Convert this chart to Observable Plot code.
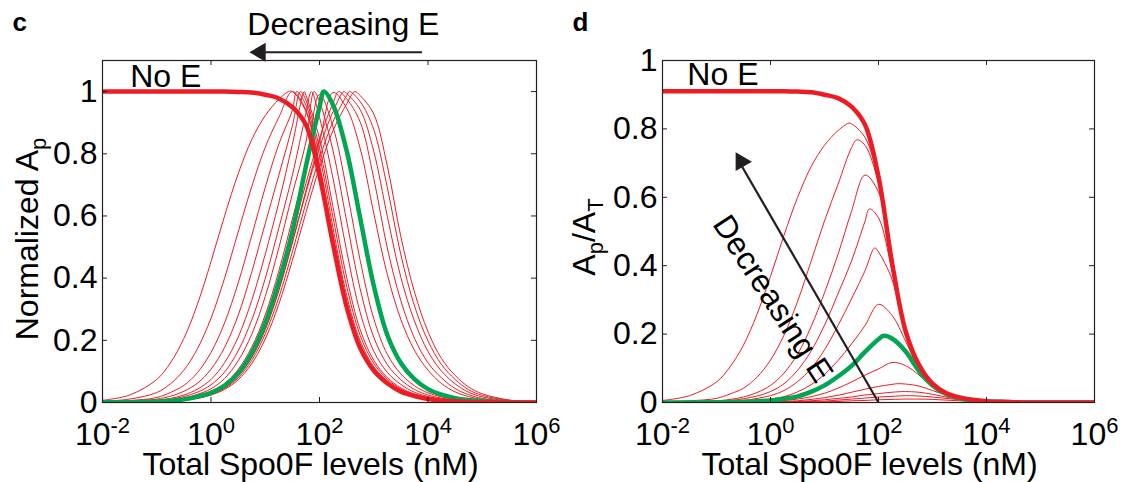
<!DOCTYPE html>
<html>
<head>
<meta charset="utf-8">
<script src="https://cdn.jsdelivr.net/npm/d3@7"></script>
<script src="https://cdn.jsdelivr.net/npm/@observablehq/plot@0.6"></script>
<style>
  html, body { margin: 0; padding: 0; background: #fff; }
  #fig { display: flex; width: 1129px; height: 482px; overflow: hidden; }
</style>
</head>
<body>
<div id="fig"></div>
<script>
// Sampling grid: log10 of total Spo0F (nM)
const logGrid = [-2,-1.5,-1,-0.75,-0.5,-0.25,0,0.25,0.5,0.75,1,1.25,1.5,1.75,2,2.25,2.5,2.75,3,3.25,3.5,3.75,4,4.25,4.5,4.75,5,5.5,6];
const xTickExp = [-2, 0, 2, 4, 6];

// Panel c: normalized Ap, one curve per E level (E decreasing from norm13 to norm1)
const normNoE  = [1,1,1,1,1,1,1,1,0.999,0.997,0.99,0.978,0.95,0.893,0.729,0.509,0.308,0.175,0.103,0.062,0.035,0.021,0.011,0.006,0.004,0.002,0.001,0,0];
const norm1  = [0.007,0.024,0.074,0.127,0.206,0.316,0.453,0.6,0.735,0.845,0.923,0.975,1.0,0.936,0.754,0.522,0.313,0.177,0.104,0.063,0.036,0.021,0.012,0.006,0.004,0.002,0.001,0,0];
const norm2  = [0.004,0.011,0.032,0.06,0.104,0.173,0.271,0.4,0.548,0.694,0.821,0.917,1.0,0.941,0.766,0.536,0.325,0.184,0.108,0.065,0.037,0.022,0.012,0.007,0.004,0.002,0.001,0,0];
const norm3  = [0.002,0.006,0.016,0.032,0.055,0.096,0.161,0.256,0.384,0.536,0.692,0.831,0.94,0.956,0.795,0.561,0.345,0.198,0.115,0.069,0.039,0.023,0.013,0.007,0.004,0.002,0.001,0,0];
const norm4  = [0.002,0.004,0.011,0.02,0.036,0.062,0.107,0.177,0.28,0.419,0.576,0.731,0.89,0.972,0.819,0.595,0.374,0.216,0.126,0.075,0.043,0.025,0.014,0.008,0.004,0.002,0.001,0,0];
const norm5  = [0.001,0.003,0.007,0.013,0.024,0.043,0.074,0.128,0.21,0.328,0.477,0.644,0.83,0.988,0.849,0.628,0.403,0.234,0.136,0.08,0.047,0.027,0.015,0.009,0.005,0.003,0.001,0,0];
const norm6  = [0.001,0.002,0.005,0.01,0.019,0.033,0.057,0.098,0.166,0.265,0.399,0.561,0.731,0.93,0.917,0.72,0.488,0.29,0.165,0.097,0.058,0.033,0.019,0.011,0.006,0.003,0.002,0,0];
const norm7  = [0.001,0.001,0.004,0.008,0.014,0.026,0.044,0.077,0.134,0.219,0.341,0.497,0.671,0.838,0.968,0.809,0.584,0.365,0.21,0.122,0.073,0.042,0.024,0.014,0.008,0.004,0.002,0.001,0];
const norm8  = [0.001,0.001,0.003,0.006,0.011,0.02,0.035,0.06,0.106,0.178,0.282,0.423,0.59,0.762,0.991,0.886,0.685,0.457,0.27,0.155,0.092,0.054,0.031,0.018,0.01,0.005,0.003,0.001,0];
const normGreen = [0.001,0.001,0.003,0.006,0.01,0.019,0.031,0.054,0.094,0.159,0.256,0.389,0.55,0.76,0.95,0.957,0.81,0.593,0.376,0.217,0.127,0.075,0.043,0.025,0.014,0.008,0.005,0.001,0];
const norm9  = [0.001,0.001,0.002,0.005,0.008,0.015,0.028,0.048,0.084,0.144,0.234,0.36,0.515,0.682,0.838,0.997,0.947,0.817,0.609,0.412,0.267,0.168,0.104,0.061,0.034,0.019,0.01,0.003,0];
const norm10 = [0.001,0.001,0.003,0.005,0.009,0.017,0.031,0.052,0.093,0.158,0.254,0.385,0.542,0.705,0.85,0.963,0.977,0.902,0.721,0.497,0.327,0.207,0.128,0.079,0.045,0.025,0.013,0.004,0.001];
const norm11 = [0.001,0.001,0.003,0.005,0.009,0.016,0.029,0.049,0.087,0.146,0.238,0.363,0.515,0.675,0.82,0.936,0.994,0.942,0.808,0.599,0.402,0.262,0.164,0.101,0.06,0.033,0.018,0.005,0.001];
const norm12 = [0.001,0.001,0.003,0.004,0.008,0.015,0.026,0.045,0.079,0.135,0.221,0.338,0.485,0.642,0.786,0.904,0.987,0.968,0.878,0.691,0.475,0.311,0.198,0.122,0.074,0.041,0.023,0.007,0.002];
const norm13 = [0.001,0.001,0.003,0.004,0.007,0.013,0.024,0.042,0.073,0.125,0.204,0.316,0.457,0.611,0.756,0.875,0.96,0.987,0.928,0.761,0.533,0.356,0.228,0.141,0.087,0.05,0.028,0.008,0.002];
// peak positions (log10 nM) of the normalized curves; every peak equals 1
const normPeakLog = [1.43,1.5,1.58,1.65,1.72,1.85,1.9,1.98,2.23,2.35,2.45,2.55,2.65];
const normGreenPeakLog = 2.08;

// Panel d: Ap/AT for the same family of E levels
const fracNoE = [0.91,0.91,0.91,0.91,0.91,0.91,0.91,0.91,0.909,0.907,0.9,0.89,0.865,0.812,0.66,0.41,0.21,0.11,0.055,0.028,0.015,0.008,0.004,0.002,0.001,0,0,0,0];
const fracA = [0.006,0.02,0.06,0.104,0.168,0.258,0.369,0.489,0.599,0.689,0.752,0.795,0.815,0.775,0.648,0.405,0.207,0.108,0.054,0.027,0.014,0.007,0.004,0.002,0.001,0,0,0,0];
const fracB = [0.002,0.005,0.012,0.025,0.042,0.074,0.124,0.197,0.295,0.412,0.531,0.638,0.745,0.752,0.64,0.4,0.205,0.107,0.054,0.027,0.014,0.007,0.003,0.002,0.001,0,0,0,0];
const fracC = [0.001,0.002,0.005,0.009,0.016,0.029,0.05,0.086,0.141,0.221,0.321,0.433,0.559,0.665,0.615,0.395,0.203,0.105,0.053,0.027,0.014,0.007,0.003,0.002,0.001,0,0,0,0];
const fracD = [0.001,0.001,0.003,0.006,0.011,0.019,0.032,0.055,0.094,0.15,0.226,0.318,0.414,0.53,0.54,0.385,0.2,0.104,0.052,0.026,0.013,0.007,0.003,0.002,0.001,0,0,0,0];
const fracE = [0,0,0.002,0.004,0.006,0.012,0.02,0.035,0.061,0.099,0.154,0.225,0.303,0.385,0.44,0.36,0.195,0.102,0.051,0.026,0.013,0.007,0.003,0.002,0.001,0,0,0,0];
const fracF = [0,0,0.001,0.002,0.003,0.006,0.01,0.017,0.031,0.052,0.082,0.123,0.171,0.225,0.287,0.255,0.18,0.098,0.05,0.025,0.013,0.006,0.003,0.002,0.001,0,0,0,0];
const fracGreen = [0,0,0.001,0.001,0.002,0.004,0.006,0.011,0.018,0.031,0.05,0.076,0.107,0.148,0.185,0.187,0.15,0.092,0.05,0.025,0.013,0.006,0.003,0.002,0.001,0,0,0,0];
const fracG = [0,0,0,0.001,0.001,0.002,0.003,0.006,0.01,0.017,0.027,0.042,0.06,0.08,0.098,0.117,0.108,0.08,0.047,0.025,0.013,0.006,0.003,0.002,0.001,0,0,0,0];
const fracH = [0,0,0,0,0,0.001,0.002,0.003,0.005,0.009,0.014,0.021,0.03,0.039,0.047,0.053,0.054,0.048,0.035,0.022,0.012,0.006,0.003,0.002,0.001,0,0,0,0];
const fracI = [0,0,0,0,0,0.001,0.001,0.002,0.003,0.005,0.008,0.012,0.016,0.022,0.026,0.03,0.032,0.03,0.024,0.016,0.01,0.005,0.003,0.002,0.001,0,0,0,0];
const fracJ = [0,0,0,0,0,0,0.001,0.001,0.002,0.003,0.004,0.007,0.01,0.013,0.016,0.018,0.02,0.019,0.016,0.012,0.008,0.004,0.002,0.001,0,0,0,0,0];
const fracK = [0,0,0,0,0,0,0,0,0.001,0.001,0.002,0.003,0.005,0.006,0.008,0.009,0.01,0.01,0.009,0.007,0.005,0.003,0.002,0.001,0,0,0,0,0];
const fracPeakLog = [1.45,1.6,1.73,1.83,1.93,2.03,2.24,2.35,2.45,2.55,2.65];
const fracPeakVal = [0.817,0.768,0.673,0.566,0.452,0.29,0.117,0.055,0.032,0.02,0.01];
const fracGreenPeak = [2.1, 0.195];

const RED = "#ed1c24", GREEN = "#00a651", INK = "#231f20";
const FONT = "'Liberation Sans', Arial, Helvetica, sans-serif";

// Build rows for one curve on the grid, adding its sampled peak
function series(id, values, peakLog, peakVal) {
  const rows = logGrid.map((e, i) => ({e, v: values[i]}));
  if (peakLog != null && !rows.some(r => Math.abs(r.e - peakLog) < 0.03)) rows.push({e: peakLog, v: peakVal});
  rows.sort((a, b) => a.e - b.e);
  return rows.map(r => ({id, x: 10 ** r.e, y: r.v}));
}

// Turn "^{..}" / "_{..}" runs in an SVG text into raised / lowered tspans
function richify(el, small, supShift, subShift) {
  const s = el.textContent;
  if (!/[_^]\{/.test(s)) return;
  el.textContent = "";
  const NS = "http://www.w3.org/2000/svg";
  let cur = 0, last = 0, m;
  const add = (txt, size, target) => {
    const t = document.createElementNS(NS, "tspan");
    t.textContent = txt;
    if (size) t.setAttribute("font-size", size);
    const dy = target - cur;
    if (dy) t.setAttribute("dy", dy);
    cur = target;
    el.appendChild(t);
  };
  const re = /([_^])\{([^}]*)\}/g;
  while ((m = re.exec(s))) {
    if (m.index > last) add(s.slice(last, m.index), null, 0);
    add(m[2], small, m[1] === "^" ? -supShift : subShift);
    last = re.lastIndex;
  }
  if (last < s.length) add(s.slice(last), null, 0);
}

function panel({width, marginLeft, marginRight, yMax, yTicks, thin, green, noE, letter, yTitle, yTitleDx, yTitleDy, extra}) {
  const marginTop = 60, marginBottom = 80, height = 482;
  const H = height - marginTop - marginBottom;
  const W = width - marginLeft - marginRight;
  const xTicks = xTickExp.map(k => 10 ** k);
  const svg = Plot.plot({
    width, height, marginLeft, marginRight, marginTop, marginBottom,
    style: {fontFamily: FONT, fontSize: "32px", color: "#000", background: "#fff", overflow: "visible"},
    x: {type: "log", domain: [1e-2, 1e6]},
    y: {domain: [0, yMax]},
    marks: [
      Plot.line(thin, {x: "x", y: "y", z: "id", stroke: RED, strokeWidth: 1, curve: "catmull-rom", clip: true}),
      Plot.line(green, {x: "x", y: "y", stroke: GREEN, strokeWidth: 4.5, curve: "catmull-rom", clip: true}),
      Plot.line(noE, {x: "x", y: "y", stroke: RED, strokeWidth: 4.5, curve: "catmull-rom", clip: true}),
      Plot.frame({stroke: INK, strokeWidth: 1.2}),
      // inward ticks on all four sides
      Plot.tickX(xTicks, {x: d => d, insetTop: H - 5, stroke: INK}),
      Plot.tickX(xTicks, {x: d => d, insetBottom: H - 5, stroke: INK}),
      Plot.tickY(yTicks, {y: d => d, insetRight: W - 5, stroke: INK}),
      Plot.tickY(yTicks, {y: d => d, insetLeft: W - 5, stroke: INK}),
      Plot.axisX(xTicks, {tickSize: 0, tickPadding: 20, label: null, fill: "#000",
        tickFormat: d => `10^{${Math.round(Math.log10(d))}}`}),
      Plot.axisY(yTicks, {tickSize: 0, tickPadding: 5, label: null, fill: "#000",
        tickFormat: d => String(+d.toFixed(1))}),
      Plot.text(["Total Spo0F levels (nM)"], {frameAnchor: "bottom", textAnchor: "middle", dx: -9, dy: 72, lineAnchor: "bottom", fill: "#000"}),
      Plot.text([yTitle], {frameAnchor: "left", textAnchor: "middle", rotate: -90, dx: yTitleDx, dy: yTitleDy, lineAnchor: "bottom", fill: "#000"}),
      Plot.text([letter], {frameAnchor: "top-left", dx: -marginLeft + 12, dy: -30, textAnchor: "start", lineAnchor: "bottom",
        fontWeight: "bold", fontSize: 26, fill: "#000"}),
      ...extra
    ]
  });
  d3.select(svg).selectAll("text").each(function () { richify(this, 22, 12, 8); });
  return svg;
}

// Panel c
const normThinValues = [norm1, norm2, norm3, norm4, norm5, norm6, norm7, norm8, norm9, norm10, norm11, norm12, norm13];
const cThin = normThinValues.flatMap((vals, i) => series("c" + i, vals, normPeakLog[i], 1));
const cGreen = series("green", normGreen, normGreenPeakLog, 1);
const cNoE = series("noE", normNoE);

const svgC = panel({
  width: 560, marginLeft: 102, marginRight: 24, yMax: 1.1, yTicks: [0, 0.2, 0.4, 0.6, 0.8, 1],
  thin: cThin, green: cGreen, noE: cNoE, letter: "c",
  yTitle: "Normalized A_{p}", yTitleDx: -64.5, yTitleDy: 7.5,
  extra: [
    Plot.text(["No E"], {x: 10 ** -1.49, y: 1.015, textAnchor: "start", lineAnchor: "bottom", fill: "#000"}),
    Plot.text(["Decreasing E"], {x: 10 ** 2.44, y: 1.183, textAnchor: "middle", lineAnchor: "bottom", fill: "#000"}),
    Plot.link([0], {x1: 10 ** 3.89, y1: 1.1265, x2: 10 ** 0.8, y2: 1.1265, stroke: INK, strokeWidth: 2.2}),
    Plot.dot([0], {x: 10 ** 0.707, y: 1.1265, symbol: "triangle", r: 7, fill: INK, stroke: "none", rotate: -90, dx: 10.9})
  ]
});

// Panel d
const fracThinValues = [fracA, fracB, fracC, fracD, fracE, fracF, fracG, fracH, fracI, fracJ, fracK];
const dThin = fracThinValues.flatMap((vals, i) => series("d" + i, vals, fracPeakLog[i], fracPeakVal[i]));
const dGreen = series("green", fracGreen, fracGreenPeak[0], fracGreenPeak[1]);
const dNoE = series("noE", fracNoE);

const svgD = panel({
  width: 569, marginLeft: 102, marginRight: 35, yMax: 1, yTicks: [0, 0.2, 0.4, 0.6, 0.8, 1],
  thin: dThin, green: dGreen, noE: dNoE, letter: "d",
  yTitle: "A_{p}/A_{T}", yTitleDx: -67.5, yTitleDy: 5.5,
  extra: [
    Plot.text(["No E"], {x: 10 ** -1.54, y: 0.927, textAnchor: "start", lineAnchor: "bottom", fill: "#000"}),
    Plot.link([0], {x1: 10 ** 2.0, y1: 0, x2: 10 ** -0.6, y2: 0.71, stroke: INK, strokeWidth: 2.2}),
    Plot.dot([0], {x: 10 ** -0.645, y: 0.732, symbol: "triangle", r: 7, fill: INK, stroke: "none", rotate: -30, dx: 5.4, dy: 9.5}),
    Plot.text(["Decreasing E"], {x: 10 ** 0.04, y: 0.303, rotate: 57, textAnchor: "middle", lineAnchor: "middle", fill: "#000"})
  ]
});

document.getElementById("fig").append(svgC, svgD);
</script>
</body>
</html>
